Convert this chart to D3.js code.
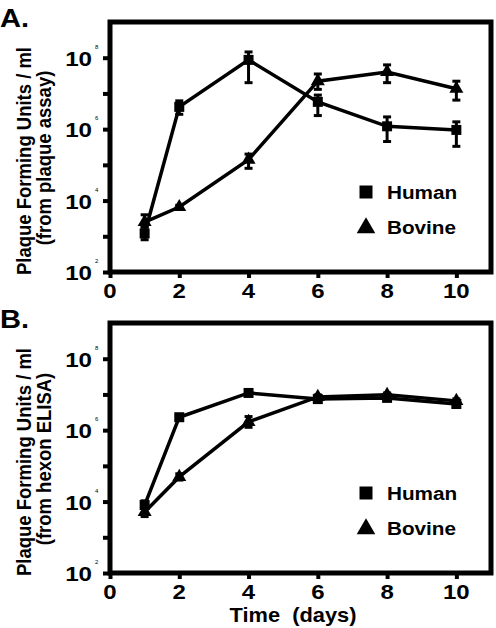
<!DOCTYPE html>
<html><head><meta charset="utf-8">
<script src="https://cdn.jsdelivr.net/npm/d3@7"></script>
<style>
html,body{margin:0;padding:0;background:#fff;}
svg{display:block;}
text{font-family:"Liberation Sans",Arial,Helvetica,sans-serif;font-weight:bold;fill:#000;}
</style></head>
<body>
<svg id="chart" width="496" height="628"></svg>
<script>
// ---- data (PFU/ml) ----
const days = [1, 2, 4, 6, 8, 10];
const xTicks = [0, 2, 4, 6, 8, 10];
const yDecades = [2, 3, 4, 5, 6, 7, 8];
const yLabelExps = [2, 4, 6, 8];

// Panel A: plaque assay
const humanPlaque   = [1.2e3, 4.2e6, 8.7e7, 5.8e6, 1.2e6, 9.5e5];
const humanPlaqueLo = [8.0e2, 2.6e6, 2.0e7, 2.4e6, 4.5e5, 3.3e5];
const humanPlaqueHi = [1.8e3, 6.2e6, 1.45e8, 9.0e6, 2.2e6, 1.6e6];
const bovinePlaque   = [2.5e3, 6.6e3, 1.4e5, 2.2e7, 4.0e7, 1.35e7];
const bovinePlaqueLo = [1.8e3, 6.0e3, 8.0e4, 1.3e7, 2.0e7, 6.5e6];
const bovinePlaqueHi = [4.0e3, 7.4e3, 2.0e5, 3.5e7, 6.3e7, 2.2e7];

// Panel B: hexon ELISA
const humanElisa   = [8.0e3, 2.3e6, 1.1e7, 7.4e6, 8.0e6, 5.4e6];
const humanElisaLo = [6.5e3, 2.0e6, 1.0e7, 6.8e6, 7.4e6, 4.9e6];
const humanElisaHi = [1.05e4, 2.6e6, 1.2e7, 8.0e6, 8.7e6, 6.0e6];
const bovineElisa   = [5.1e3, 4.9e4, 1.7e6, 8.5e6, 9.8e6, 6.6e6];
const bovineElisaLo = [3.8e3, 4.0e4, 1.2e6, 7.5e6, 8.8e6, 5.8e6];
const bovineElisaHi = [7.0e3, 6.0e4, 2.4e6, 9.7e6, 1.1e7, 7.5e6];

const panels = [
  {label: "A.", top: 22, bottom: 272, sub: "(from plaque assay)",
   human: [humanPlaque, humanPlaqueLo, humanPlaqueHi],
   bovine: [bovinePlaque, bovinePlaqueLo, bovinePlaqueHi], xTitle: false},
  {label: "B.", top: 323, bottom: 573, sub: "(from hexon ELISA)",
   human: [humanElisa, humanElisaLo, humanElisaHi],
   bovine: [bovineElisa, bovineElisaLo, bovineElisaHi], xTitle: true}
];

const svg = d3.select("#chart");
const x = d3.scaleLinear().domain([0, 11]).range([110, 491]);
const SX = 1.12; // horizontal stretch of the original typography

function stretchedText(g, tx, ty, str, size, anchor, sx) {
  return g.append("text")
    .attr("transform", `translate(${tx},${ty}) scale(${sx || SX},1)`)
    .attr("text-anchor", anchor || "start")
    .style("font-size", size + "px")
    .style("white-space", "pre")
    .text(str);
}

const tri = d3.symbol().type(d3.symbolTriangle);
const sq = d3.symbol().type(d3.symbolSquare);

panels.forEach(p => {
  const y = d3.scaleLog().domain([1e2, 1e9]).range([p.bottom, p.top]);
  const g = svg.append("g");

  // panel letter
  stretchedText(g, 0, p.top + 5, p.label, 26, "start");

  // y title (two lines)
  const cy = (p.top + p.bottom) / 2 + 14;
  g.append("text")
    .attr("transform", `translate(31,${cy}) scale(${SX},1) rotate(-90)`)
    .attr("text-anchor", "middle").style("font-size", "18.5px")
    .text("Plaque Forming Units / ml");
  g.append("text")
    .attr("transform", `translate(51,${cy - 3}) scale(${SX},1) rotate(-90)`)
    .attr("text-anchor", "middle").style("font-size", "18.5px")
    .text(p.sub);

  // y axis ticks
  const yAxis = d3.axisLeft(y).tickValues(yDecades.map(e => Math.pow(10, e)))
    .tickSize(7).tickFormat("");
  const ya = g.append("g").attr("transform", "translate(110,0)").call(yAxis);
  ya.select(".domain").remove();
  ya.selectAll(".tick line").attr("stroke", "#000").attr("stroke-width", 4);

  // y labels 10^n
  yLabelExps.forEach(e => {
    const yy = y(Math.pow(10, e));
    stretchedText(g, 92, yy + 8, "10", 21, "end", 1.15);
    g.append("text").attr("x", 95).attr("y", yy - 9)
      .style("font-size", "6px").style("font-weight", "normal").text(e);
  });

  // x axis ticks
  const xAxis = d3.axisBottom(x).tickValues(xTicks).tickSize(6).tickFormat("");
  const xa = g.append("g").attr("transform", `translate(0,${p.bottom})`).call(xAxis);
  xa.select(".domain").remove();
  xa.selectAll(".tick line").attr("stroke", "#000").attr("stroke-width", 4);
  xTicks.forEach(t => stretchedText(g, x(t), p.bottom + 26, String(t), 20, "middle", 1.2));

  // frame
  g.append("rect").attr("x", x(0)).attr("y", p.top)
    .attr("width", x(11) - x(0)).attr("height", p.bottom - p.top)
    .attr("fill", "none").attr("stroke", "#000").attr("stroke-width", 5);

  // series
  const line = d3.line().x(d => x(d.t)).y(d => y(d.v));
  [[p.human, sq, 100], [p.bovine, tri, 85]].forEach(([ser, sym, size]) => {
    const pts = days.map((t, i) => ({t, v: ser[0][i], lo: ser[1][i], hi: ser[2][i]}));
    g.append("path").datum(pts).attr("d", line)
      .attr("fill", "none").attr("stroke", "#000").attr("stroke-width", 3.5);
    const eb = g.append("g").attr("stroke", "#000").attr("stroke-width", 3);
    pts.forEach(d => {
      eb.append("line").attr("x1", x(d.t)).attr("x2", x(d.t)).attr("y1", y(d.lo)).attr("y2", y(d.hi));
      eb.append("line").attr("x1", x(d.t) - 4).attr("x2", x(d.t) + 4).attr("y1", y(d.lo)).attr("y2", y(d.lo));
      eb.append("line").attr("x1", x(d.t) - 4).attr("x2", x(d.t) + 4).attr("y1", y(d.hi)).attr("y2", y(d.hi));
    });
    g.selectAll(null).data(pts).enter().append("path")
      .attr("d", sym.size(size)())
      .attr("transform", d => `translate(${x(d.t)},${y(d.v)})`)
      .attr("fill", "#000");
  });

  // legend
  const ly1 = p.bottom - 80, ly2 = p.bottom - 45;
  g.append("path").attr("d", sq.size(169)()).attr("transform", `translate(366,${ly1})`).attr("fill", "#000");
  g.append("path").attr("d", tri.size(150)()).attr("transform", `translate(366,${ly2 + 1})`).attr("fill", "#000");
  stretchedText(g, 387, ly1 + 7, "Human", 18.5, "start");
  stretchedText(g, 387, ly2 + 7, "Bovine", 18.5, "start");

  if (p.xTitle) {
    stretchedText(g, 293, p.bottom + 49, "Time  (days)", 19.5, "middle");
  }
});
</script>
</body></html>
